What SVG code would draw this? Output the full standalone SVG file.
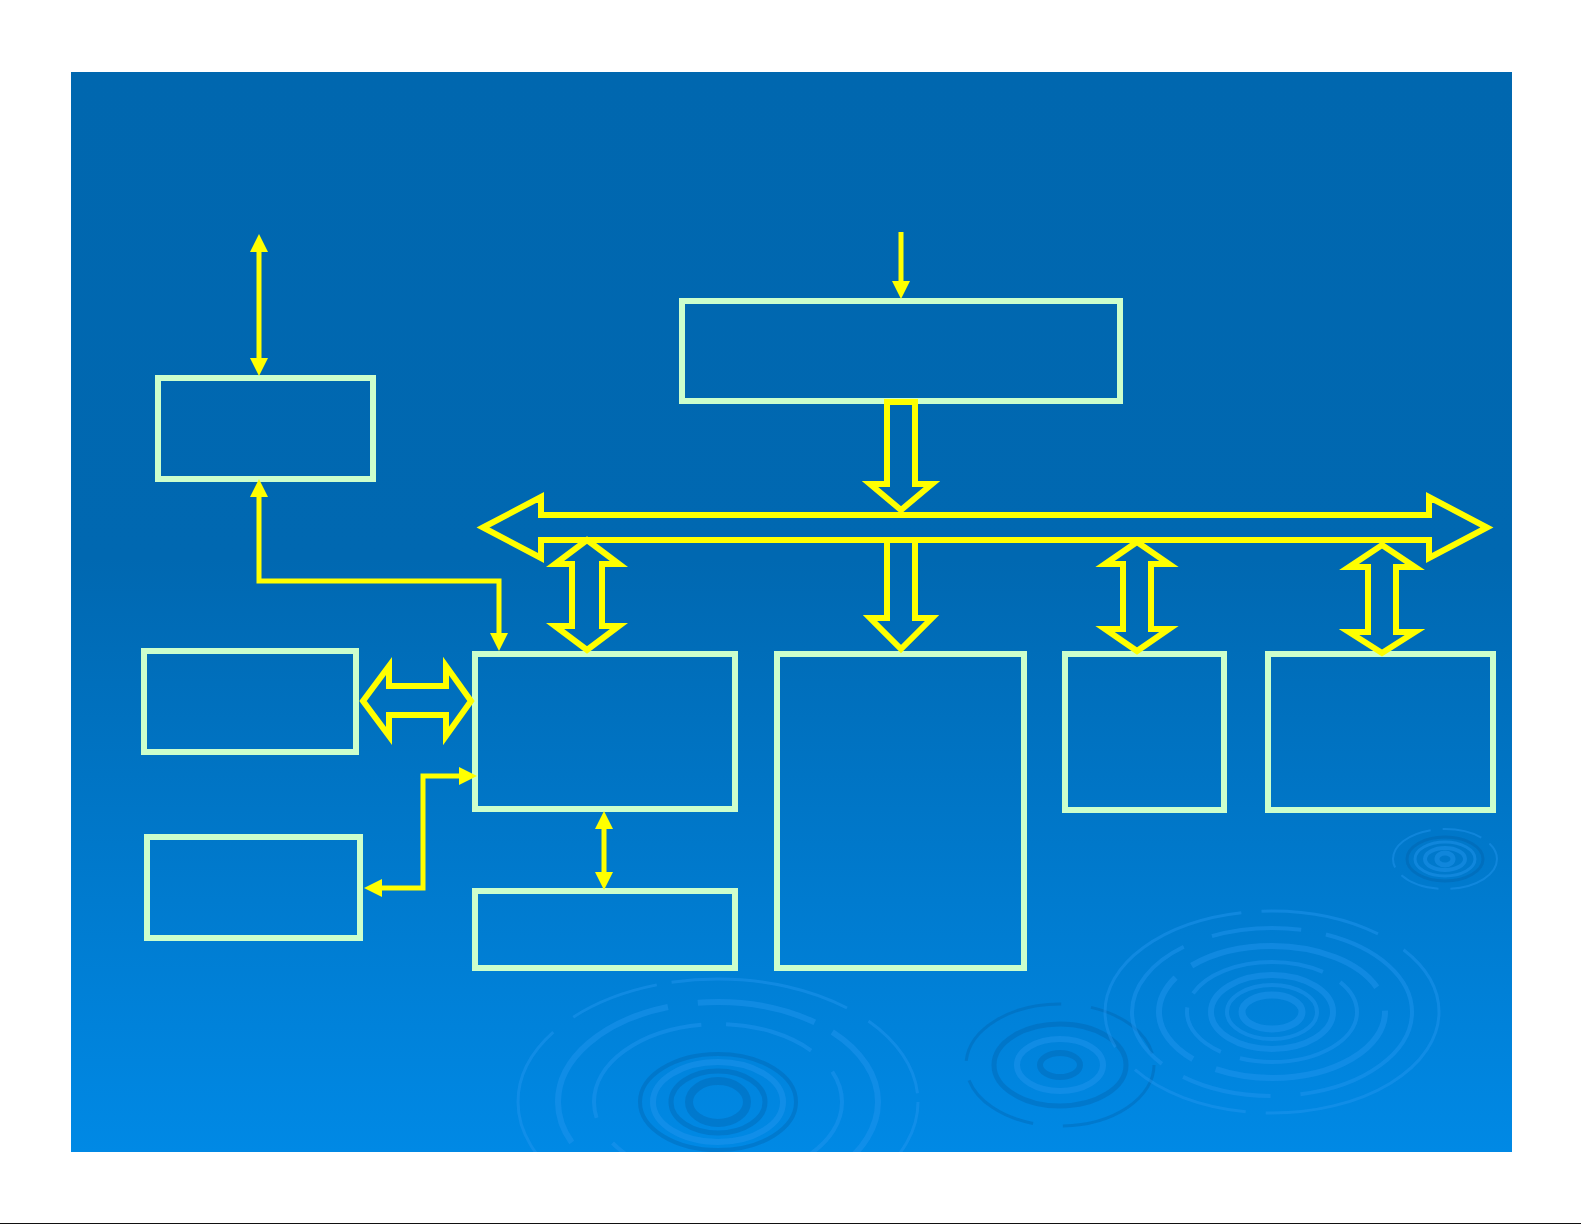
<svg xmlns="http://www.w3.org/2000/svg" width="1585" height="1225" viewBox="0 0 1585 1225">
<defs>
  <linearGradient id="bg" x1="0" y1="0" x2="0" y2="1">
    <stop offset="0" stop-color="#0067AF"/>
    <stop offset="0.45" stop-color="#0068B1"/>
    <stop offset="1" stop-color="#0089E5"/>
  </linearGradient>
  <clipPath id="clip"><rect x="71" y="72" width="1441" height="1080"/></clipPath>
  <marker id="ah" markerUnits="userSpaceOnUse" markerWidth="18" markerHeight="18" refX="9" refY="9" orient="auto-start-reverse" viewBox="0 0 18 18">
    <path d="M0,0 L18,9 L0,18 z" fill="#FFFF00"/>
  </marker>
  <style>
    .box{fill:none;stroke:#CCFFCC;stroke-width:6}
    .thin{fill:none;stroke:#FFFF00;stroke-width:5;marker-start:url(#ah);marker-end:url(#ah)}
    .thin1{fill:none;stroke:#FFFF00;stroke-width:5;marker-end:url(#ah)}
    .block{fill:none;stroke:#FFFF00;stroke-width:6;stroke-linejoin:miter;stroke-miterlimit:10}
    .rip{fill:none;stroke:#2496F0;opacity:.45}
    .ripd{fill:none;stroke:#005A9E;opacity:.3}
  </style>
</defs>
<rect x="0" y="0" width="1585" height="1225" fill="#FFFFFF"/>
<line x1="0" y1="1223.5" x2="1581" y2="1223.5" stroke="#111111" stroke-width="1"/>
<g id="background">
  <rect x="71" y="72" width="1441" height="1080" fill="url(#bg)"/>
  <g clip-path="url(#clip)">
    <g id="ripple-left">
      <ellipse class="ripd" cx="718" cy="1102" rx="29" ry="21" stroke-width="8"/>
      <ellipse class="ripd" cx="718" cy="1102" rx="47" ry="31" stroke-width="5"/>
      <ellipse class="rip" cx="718" cy="1102" rx="65" ry="40" stroke-width="6"/>
      <ellipse class="ripd" cx="718" cy="1102" rx="78" ry="48" stroke-width="4"/>
      <ellipse class="rip" cx="718" cy="1102" rx="124" ry="78" stroke-width="4" stroke-dasharray="160 25 90 30"/>
      <ellipse class="rip" cx="718" cy="1102" rx="160" ry="100" stroke-width="6" stroke-dasharray="200 30 120 20"/>
      <ellipse class="rip" cx="718" cy="1102" rx="200" ry="123" stroke-width="3" stroke-dasharray="90 15 180 25"/>
    </g>
    <g id="ripple-middle">
      <ellipse class="ripd" cx="1060" cy="1065" rx="20" ry="12" stroke-width="6"/>
      <ellipse class="rip" cx="1060" cy="1065" rx="43" ry="26" stroke-width="6"/>
      <ellipse class="ripd" cx="1060" cy="1065" rx="66" ry="41" stroke-width="5"/>
      <ellipse class="ripd" cx="1060" cy="1065" rx="94" ry="61" stroke-width="3" stroke-dasharray="120 30 80 20"/>
    </g>
    <g id="ripple-right">
      <ellipse class="rip" cx="1272" cy="1012" rx="30" ry="17" stroke-width="7"/>
      <ellipse class="rip" cx="1272" cy="1012" rx="45" ry="27" stroke-width="4"/>
      <ellipse class="rip" cx="1272" cy="1012" rx="61" ry="37" stroke-width="6"/>
      <ellipse class="rip" cx="1272" cy="1012" rx="85" ry="50" stroke-width="4" stroke-dasharray="140 20 60 15"/>
      <ellipse class="rip" cx="1272" cy="1012" rx="113" ry="66" stroke-width="6" stroke-dasharray="200 25 100 20"/>
      <ellipse class="rip" cx="1272" cy="1012" rx="140" ry="84" stroke-width="4" stroke-dasharray="150 30 90 25"/>
      <ellipse class="rip" cx="1272" cy="1012" rx="167" ry="101" stroke-width="3" stroke-dasharray="220 20 120 30"/>
    </g>
    <g id="ripple-small">
      <ellipse class="rip" cx="1445" cy="859" rx="8" ry="6" stroke-width="5"/>
      <ellipse class="rip" cx="1445" cy="859" rx="20" ry="11" stroke-width="4"/>
      <ellipse class="rip" cx="1445" cy="859" rx="30" ry="17" stroke-width="3"/>
      <ellipse class="ripd" cx="1445" cy="859" rx="38" ry="22" stroke-width="3"/>
      <ellipse class="rip" cx="1445" cy="859" rx="52" ry="30" stroke-width="2" stroke-dasharray="60 12 40 10"/>
    </g>
  </g>
</g>
<g id="node-a"><rect class="box" x="158" y="378" width="215" height="101"/></g>
<g id="node-b"><rect class="box" x="144" y="651" width="212" height="101"/></g>
<g id="node-c"><rect class="box" x="475" y="654" width="260" height="155"/></g>
<g id="node-d"><rect class="box" x="147" y="837" width="213" height="101"/></g>
<g id="node-e"><rect class="box" x="475" y="891" width="260" height="77"/></g>
<g id="node-t"><rect class="box" x="682" y="301" width="438" height="100"/></g>
<g id="node-f"><rect class="box" x="777" y="654" width="247" height="314"/></g>
<g id="node-g"><rect class="box" x="1065" y="654" width="159" height="156"/></g>
<g id="node-h"><rect class="box" x="1268" y="654" width="225" height="156"/></g>
<g id="connectors">
  <path class="thin" d="M259,243 V367"/>
  <path class="thin" d="M259,488 V581 H499 V642"/>
  <path class="thin1" d="M901,232 V290"/>
  <path class="thin" d="M373,888 H423 V776 H468"/>
  <path class="thin" d="M604,820 V881"/>
  <polygon class="block" points="363,701 389,666 389,686 446,686 446,666 471,701 446,736 446,715 389,715 389,736"/>
  <polygon class="block" points="483,527.5 541,497 541,515 1429,515 1429,497 1487,527.5 1429,558 1429,540 541,540 541,558"/>
  <polygon class="block" points="887,402 915,402 915,484 932,484 901,510 870,484 887,484"/>
  <polygon class="block" points="887,540 915,540 915,618 932,618 901,649 870,618 887,618"/>
  <polygon class="block" points="587,540 619,564 602,564 602,626 619,626 587,650 555,626 572,626 572,564 555,564"/>
  <polygon class="block" points="1137,542 1169,564 1151,564 1151,629 1169,629 1137,651 1105,629 1123,629 1123,564 1105,564"/>
  <polygon class="block" points="1382,545 1415,567 1396,567 1396,632 1415,632 1382,653 1349,632 1368,632 1368,567 1349,567"/>
</g>
</svg>
